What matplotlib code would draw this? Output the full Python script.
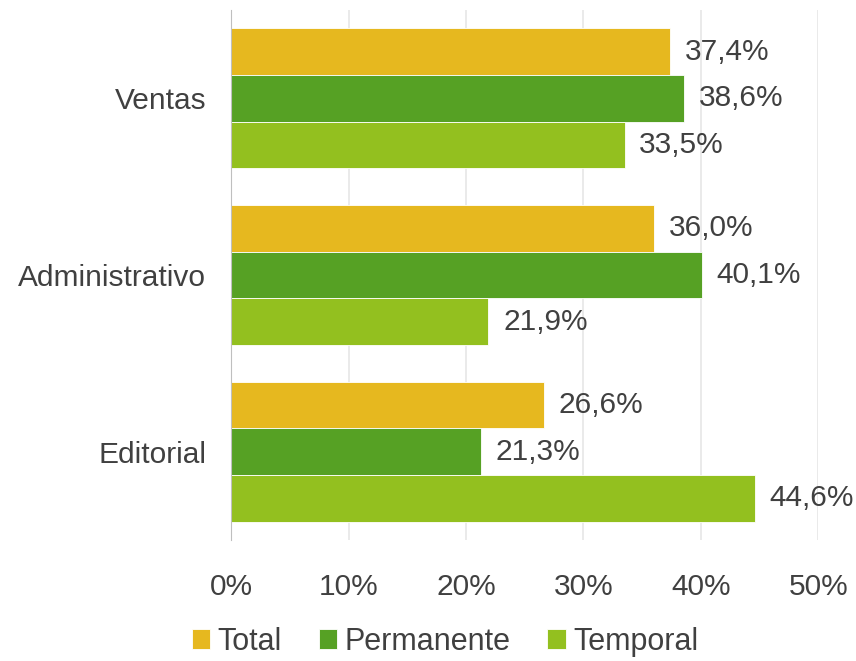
import matplotlib.pyplot as plt
import numpy as np

plt.rcParams['font.family'] = ['Liberation Sans Narrow', 'Liberation Sans', 'DejaVu Sans']

categorias = ['Ventas', 'Administrativo', 'Editorial']
series = ['Total', 'Permanente', 'Temporal']
total = [37.4, 36.0, 26.6]
permanente = [38.6, 40.1, 21.3]
temporal = [33.5, 21.9, 44.6]
colores = ['#E6B81F', '#56A124', '#93C01F']
ticks = [0, 10, 20, 30, 40, 50]

txt = '#404040'
fig = plt.figure(figsize=(8.56, 6.61), dpi=100)
ax = fig.add_axes([0.270, 0.183, 0.686, 0.802])

y = np.arange(len(categorias))
h = 0.264
for k, (vals, col, name) in enumerate(zip([total, permanente, temporal], colores, series)):
    pos = y + (k - 1) * h
    ax.barh(pos, vals, height=h, color=col, edgecolor='white', linewidth=0.6, label=name, zorder=3)
    for p, v in zip(pos, vals):
        ax.text(v + 1.25, p, f'{v:.1f}%'.replace('.', ','), va='center', ha='left',
                fontsize=21.5, color=txt, zorder=4)

ax.set_ylim(len(categorias) - 0.5, -0.5)
ax.set_xlim(0, 50)
ax.set_yticks(y)
ax.set_yticklabels(categorias, fontsize=21.5, color=txt)
ax.set_xticks(ticks)
ax.set_xticklabels([f'{t}%' for t in ticks], fontsize=21.5, color=txt)
ax.tick_params(axis='both', length=0)
ax.tick_params(axis='y', pad=18)
ax.tick_params(axis='x', pad=24)
ax.grid(axis='x', color='#E6E6E6', linewidth=1.2, zorder=0)
for s in ['top', 'right', 'bottom']:
    ax.spines[s].set_visible(False)
ax.spines['left'].set_color('#BFBFBF')
ax.spines['left'].set_zorder(5)

fig.legend(loc='lower center', bbox_to_anchor=(0.52, -0.035), ncol=3, frameon=False,
           fontsize=22, labelcolor=txt, handlelength=0.6, handleheight=0.6,
           handletextpad=0.25, columnspacing=1.2)

fig.savefig('out.png', dpi=100)
